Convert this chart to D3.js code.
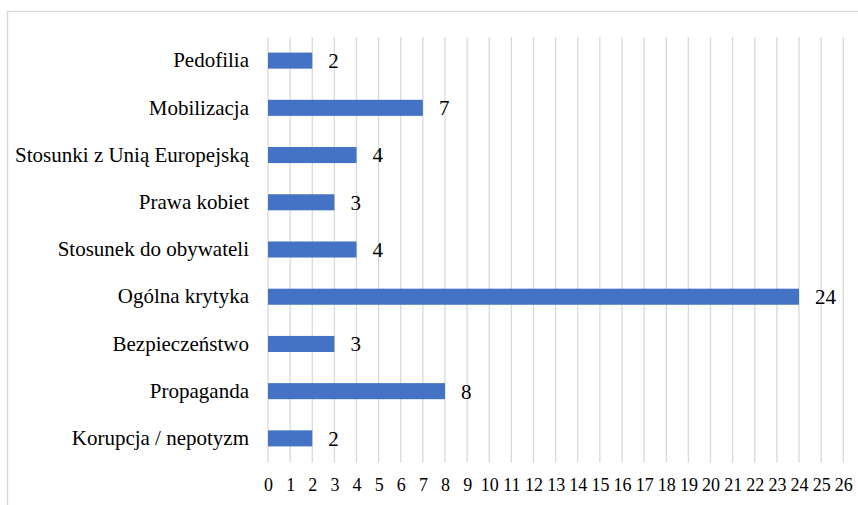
<!DOCTYPE html>
<html>
<head>
<meta charset="utf-8">
<script src="https://cdn.jsdelivr.net/npm/d3@7/dist/d3.min.js"></script>
<style>
  html, body { margin: 0; padding: 0; background: #fff; }
  svg { display: block; }
  svg text { font-family: "Liberation Serif", "Tinos", "Times New Roman", "DejaVu Serif", serif !important; fill: #000; }
</style>
</head>
<body>
<svg id="chart" width="858" height="505"></svg>
<script>
const categories = [
  "Pedofilia",
  "Mobilizacja",
  "Stosunki z Unią Europejską",
  "Prawa kobiet",
  "Stosunek do obywateli",
  "Ogólna krytyka",
  "Bezpieczeństwo",
  "Propaganda",
  "Korupcja / nepotyzm"
];
const values = [2, 7, 4, 3, 4, 24, 3, 8, 2];
const tickValues = d3.range(0, 27);

const FONT = "'Liberation Serif', 'Times New Roman', serif";
const svg = d3.select("#chart");

// outer frame (extends past the window at right and bottom)
svg.append("rect")
  .attr("x", 7.5).attr("y", 11.5)
  .attr("width", 1000).attr("height", 700)
  .attr("fill", "none").attr("stroke", "#d9d9d9").attr("stroke-width", 1.5);

const x = d3.scaleLinear().domain([0, 26]).range([268, 843.25]);
const y = d3.scaleBand().domain(categories).range([37, 462])
  .paddingInner(0.66).paddingOuter(0.33);

// gridlines
svg.append("g").selectAll("line").data(tickValues).join("line")
  .attr("x1", d => x(d)).attr("x2", d => x(d))
  .attr("y1", 37).attr("y2", 462.5)
  .attr("stroke", "#d9d9d9").attr("stroke-width", 1.3);

// x tick labels
const xAxis = d3.axisBottom(x).tickValues(tickValues).tickSize(0).tickPadding(0).tickFormat(d3.format("d"));
const gx = svg.append("g").attr("transform", "translate(0,478.5)").call(xAxis)
  .attr("font-family", FONT);
gx.select(".domain").remove();
gx.selectAll("text").attr("font-size", 18).attr("dy", "0.71em").attr("y", 0).attr("fill", "#000");

// y category labels
const yAxis = d3.axisLeft(y).tickSize(0).tickPadding(0);
const gy = svg.append("g").attr("transform", "translate(249,0)").call(yAxis)
  .attr("font-family", FONT);
gy.select(".domain").remove();
gy.selectAll("text").attr("font-size", 21).attr("fill", "#000");

// bars
svg.append("g").selectAll("rect").data(values).join("rect")
  .attr("x", x(0))
  .attr("y", (d, i) => y(categories[i]))
  .attr("width", d => x(d) - x(0))
  .attr("height", y.bandwidth())
  .attr("fill", "#4472C4");

// value labels
svg.append("g").attr("font-family", FONT).selectAll("text").data(values).join("text")
  .attr("x", d => x(d) + 16)
  .attr("y", (d, i) => y(categories[i]) + y.bandwidth() / 2)
  .attr("dy", "0.35em")
  .attr("font-size", 21)
  .text(d => d);
</script>
</body>
</html>
